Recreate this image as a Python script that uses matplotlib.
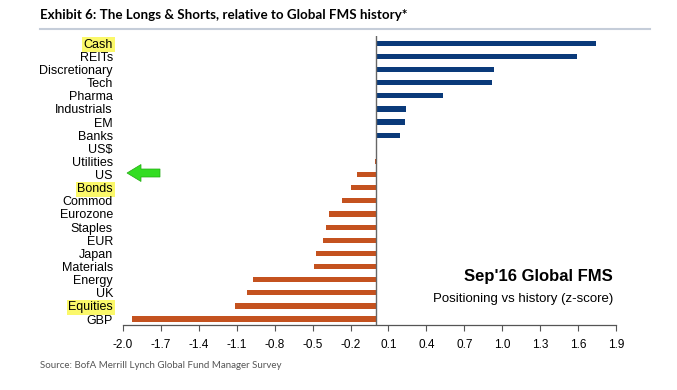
import matplotlib
matplotlib.use("Agg")
import matplotlib.pyplot as plt
from matplotlib.lines import Line2D
from matplotlib.patches import FancyArrow

categories = ["Cash", "REITs", "Discretionary", "Tech", "Pharma", "Industrials", "EM",
              "Banks", "US$", "Utilities", "US", "Bonds", "Commod", "Eurozone", "Staples",
              "EUR", "Japan", "Materials", "Energy", "UK", "Equities", "GBP"]
values = [1.74, 1.59, 0.93, 0.92, 0.53, 0.24, 0.23, 0.19, 0.01, -0.01, -0.15, -0.20,
          -0.27, -0.37, -0.39, -0.42, -0.47, -0.49, -0.97, -1.02, -1.11, -1.93]
highlighted = ["Cash", "Bonds", "Equities"]
tick_values = [-2.0, -1.7, -1.4, -1.1, -0.8, -0.5, -0.2, 0.1, 0.4, 0.7, 1.0, 1.3, 1.6, 1.9]
tick_labels = ["-2.0", "-1.7", "-1.4", "-1.1", "-0.8", "-0.5", "-0.2", "0.1", "0.4",
               "0.7", "1.0", "1.3", "1.6", "1.9"]

BLUE = "#0a3a7a"
ORANGE = "#c4521f"
FONT = "Liberation Sans"

fig = plt.figure(figsize=(6.77, 3.90), dpi=100)
W, H = 677, 390
ax = fig.add_axes([122.7 / W, (H - 325) / H, (616.3 - 122.7) / W, (325 - 36) / H])

n = len(categories)
ypos = list(range(n - 1, -1, -1))
colors = [BLUE if v >= 0 else ORANGE for v in values]
ax.barh(ypos, values, height=0.4, color=colors, edgecolor="none")

ax.set_xlim(-2.0, 1.9)
ax.set_ylim(-0.45, n - 1 + 0.55)
ax.axvline(0, color="#666666", lw=1.0)

for s in ["top", "right", "left"]:
    ax.spines[s].set_visible(False)
ax.spines["bottom"].set_color("#555555")
ax.spines["bottom"].set_linewidth(0.9)
ax.set_xticks(tick_values)
ax.set_xticklabels(tick_labels, fontfamily=FONT, fontsize=8.5)
ax.tick_params(axis="x", direction="out", length=4, width=0.8, color="#555555", pad=6)

ax.set_yticks(ypos)
ax.set_yticklabels(categories, fontfamily=FONT, fontsize=9)
ax.tick_params(axis="y", length=0, pad=7)
for lbl in ax.get_yticklabels():
    if lbl.get_text() in highlighted:
        lbl.set_bbox(dict(facecolor="#fbf86a", edgecolor="none", pad=1.2))

# annotation box text
ax.text(613 / W, (H - 277) / H, "Sep'16 Global FMS", transform=fig.transFigure,
        ha="right", va="center", fontfamily=FONT, fontsize=12, fontweight="bold")
ax.text(613 / W, (H - 299) / H, "Positioning vs history (z-score)", transform=fig.transFigure,
        ha="right", va="center", fontfamily=FONT, fontsize=9.5)

# title and underline
fig.text(40 / W, (H - 15) / H, "Exhibit 6: The Longs & Shorts, relative to Global FMS history*",
         ha="left", va="center", fontfamily="Lato", fontsize=9.6, fontweight="bold")
fig.add_artist(Line2D([40 / W, 650 / W], [(H - 29) / H, (H - 29) / H],
                      transform=fig.transFigure, color="#c5cdd9", lw=1.5))

# source
fig.text(40 / W, (H - 365) / H, "Source: BofA Merrill Lynch Global Fund Manager Survey",
         ha="left", va="center", fontfamily="Lato", fontsize=7, color="#555555")

# green arrow
fig.add_artist(FancyArrow(160 / W, (H - 173) / H, -33 / W, 0, width=8 / H,
                          head_width=17 / H, head_length=14 / W,
                          length_includes_head=True, transform=fig.transFigure,
                          color="#33dd22", ec="#22aa11", lw=0.5))

fig.savefig("out.png", dpi=100)
